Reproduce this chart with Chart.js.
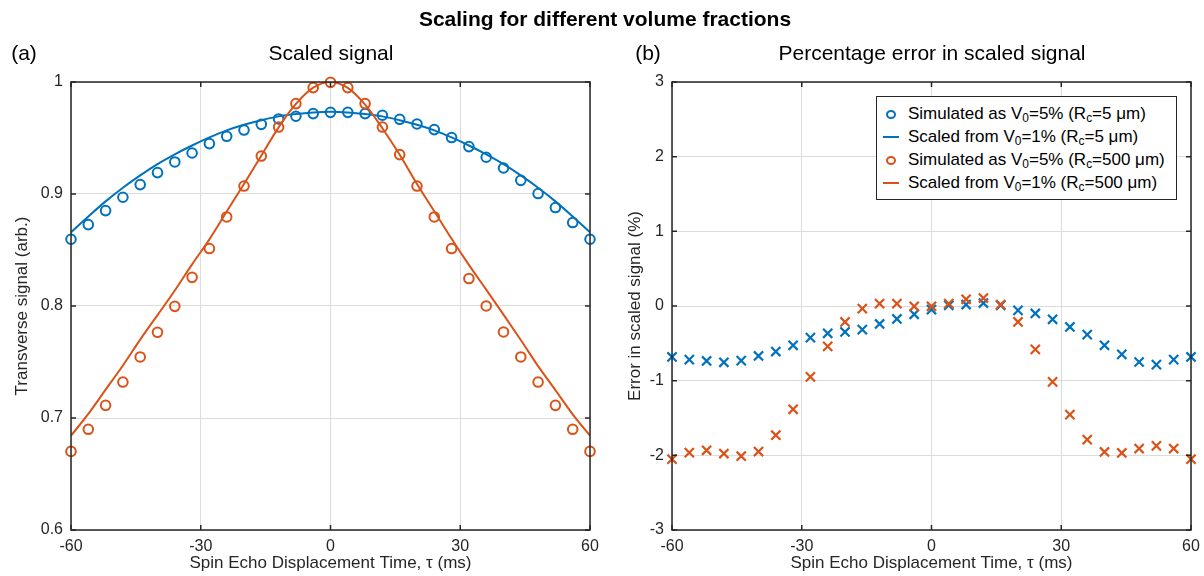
<!DOCTYPE html>
<html>
<head>
<meta charset="utf-8">
<script src="https://cdn.jsdelivr.net/npm/chart.js@4.4.1/dist/chart.umd.min.js"></script>
<style>
body { margin: 0; background: #fff; font-family: "Liberation Sans", Arial, sans-serif; }
#wrap { position: relative; width: 1204px; height: 576px; overflow: hidden; }
.box { position: absolute; top: 0; height: 576px; }
#boxA { left: 0; width: 600px; }
#boxB { left: 600px; width: 604px; }
.txt { position: absolute; white-space: nowrap; color: #000; line-height: 1; transform: translate(-50%, -50%); }
#legend { position: absolute; left: 876px; top: 96px; width: 301px; height: 104px; box-sizing: border-box;
  border: 1px solid #262626; background: #fff; padding-top: 5px; font-size: 17px; }
#legend .row { position: relative; height: 23px; line-height: 23px; padding-left: 31px; white-space: nowrap; }
#legend sub { font-size: 70%; line-height: 0; vertical-align: -0.25em; }
.mk { position: absolute; top: 50%; }
.circ { left: 9px; width: 10px; height: 9px; margin-top: -4px; border-radius: 50%; border: 2px solid; box-sizing: border-box; }
.ln { left: 6px; width: 16px; height: 2px; margin-top: -1px; }
</style>
</head>
<body>
<div id="wrap">
  <div class="box" id="boxA"><canvas id="chartA"></canvas></div>
  <div class="box" id="boxB"><canvas id="chartB"></canvas></div>

  <div class="txt" style="left:605px; top:18px; font-weight:bold; font-size:21px;">Scaling for different volume fractions</div>
  <div class="txt" style="left:24px; top:52px; font-size:21px;">(a)</div>
  <div class="txt" style="left:331px; top:52px; font-size:21px;">Scaled signal</div>
  <div class="txt" style="left:648px; top:52px; font-size:21px;">(b)</div>
  <div class="txt" style="left:932px; top:52px; font-size:21px;">Percentage error in scaled signal</div>

  <div id="legend">
    <div class="row"><span class="mk circ" style="border-color:#0072BD"></span>Simulated as V<sub>0</sub>=5% (R<sub>c</sub>=5 μm)</div>
    <div class="row"><span class="mk ln" style="background:#0072BD"></span>Scaled from V<sub>0</sub>=1% (R<sub>c</sub>=5 μm)</div>
    <div class="row"><span class="mk circ" style="border-color:#D95319"></span>Simulated as V<sub>0</sub>=5% (R<sub>c</sub>=500 μm)</div>
    <div class="row"><span class="mk ln" style="background:#D95319"></span>Scaled from V<sub>0</sub>=1% (R<sub>c</sub>=500 μm)</div>
  </div>
</div>

<script>
// spin echo displacement time (ms)
const tau = [-60, -56, -52, -48, -44, -40, -36, -32, -28, -24, -20, -16, -12, -8, -4, 0,
             4, 8, 12, 16, 20, 24, 28, 32, 36, 40, 44, 48, 52, 56, 60];

// (a) transverse signal, Rc = 5 um
const simSmall = [0.8596, 0.8727, 0.8852, 0.8971, 0.9084, 0.9191, 0.9286, 0.9366, 0.9450, 0.9515, 0.9571, 0.9622, 0.9670, 0.9694, 0.9718, 0.9729,
                  0.9729, 0.9718, 0.9703, 0.9667, 0.9625, 0.9575, 0.9504, 0.9423, 0.9328, 0.9232, 0.9122, 0.9004, 0.8879, 0.8745, 0.8596];
const scaledSmall = [0.8658, 0.8799, 0.8934, 0.9056, 0.9166, 0.9267, 0.9354, 0.9433, 0.9505, 0.9568, 0.9618, 0.9659, 0.9693, 0.9714, 0.9728, 0.9734,
                     0.9728, 0.9714, 0.9693, 0.9659, 0.9618, 0.9568, 0.9505, 0.9433, 0.9354, 0.9267, 0.9166, 0.9056, 0.8934, 0.8799, 0.8658];

// (a) transverse signal, Rc = 500 um
const simLarge = [0.6702, 0.6899, 0.7113, 0.7321, 0.7545, 0.7765, 0.7997, 0.8256, 0.8513, 0.8795, 0.9071, 0.9339, 0.9598, 0.9807, 0.9950, 0.9997,
                  0.9950, 0.9807, 0.9598, 0.9352, 0.9071, 0.8795, 0.8513, 0.8245, 0.8000, 0.7768, 0.7545, 0.7321, 0.7113, 0.6899, 0.6702];
const scaledLarge = [0.6842, 0.7037, 0.7253, 0.7469, 0.7700, 0.7919, 0.8138, 0.8372, 0.8595, 0.8843, 0.9090, 0.9342, 0.9595, 0.9804, 0.9950, 1.0000,
                     0.9947, 0.9798, 0.9587, 0.9350, 0.9090, 0.8846, 0.8600, 0.8367, 0.8146, 0.7923, 0.7696, 0.7463, 0.7249, 0.7033, 0.6842];

// (b) percentage error
const errSmall = [-0.683, -0.718, -0.736, -0.754, -0.731, -0.669, -0.610, -0.526, -0.423, -0.365, -0.348, -0.316, -0.241, -0.174, -0.111, -0.048,
                  0.010, 0.020, 0.040, 0.010, -0.058, -0.100, -0.178, -0.281, -0.383, -0.526, -0.647, -0.750, -0.785, -0.718, -0.683];
const errLarge = [-2.052, -1.963, -1.932, -1.976, -2.012, -1.949, -1.731, -1.383, -0.950, -0.540, -0.214, -0.035, 0.032, 0.032, -0.004, -0.004,
                  0.032, 0.090, 0.107, 0.019, -0.214, -0.580, -1.017, -1.454, -1.789, -1.955, -1.968, -1.909, -1.874, -1.909, -2.052];

const xTicks = [-60, -30, 0, 30, 60];
const blue = '#0072BD';
const orange = '#D95319';
const font = "'Liberation Sans', Arial, sans-serif";

function pts(ys) {
    return tau.map((t, i) => ({ x: t, y: ys[i] }));
}

// box around axes with inward ticks, like the original figure
const framePlugin = {
    id: 'frame',
    afterDraw(chart) {
        const { ctx, chartArea: a, scales } = chart;
        ctx.save();
        ctx.strokeStyle = '#262626';
        ctx.lineWidth = 1.5;
        ctx.strokeRect(a.left, a.top, a.right - a.left, a.bottom - a.top);
        ctx.beginPath();
        scales.x.ticks.forEach(t => {
            const px = scales.x.getPixelForValue(t.value);
            ctx.moveTo(px, a.bottom); ctx.lineTo(px, a.bottom - 5);
            ctx.moveTo(px, a.top); ctx.lineTo(px, a.top + 5);
        });
        scales.y.ticks.forEach(t => {
            const py = scales.y.getPixelForValue(t.value);
            ctx.moveTo(a.left, py); ctx.lineTo(a.left + 5, py);
            ctx.moveTo(a.right, py); ctx.lineTo(a.right - 5, py);
        });
        ctx.stroke();
        ctx.restore();
    }
};

function makeOptions(yMin, yMax, yStep, yTitle, yWidth, titlePad, rightPad) {
    return {
        responsive: true,
        maintainAspectRatio: false,
        animation: false,
        layout: { padding: { top: 82, right: rightPad, left: 0, bottom: 0 } },
        plugins: { legend: { display: false }, tooltip: { enabled: false } },
        scales: {
            x: {
                type: 'linear', min: -60, max: 60,
                afterFit: s => { s.height = 46; s.paddingLeft = 0; s.paddingRight = 0; },
                afterBuildTicks: s => { s.ticks = xTicks.map(v => ({ value: v })); },
                border: { display: false },
                grid: { color: '#dcdcdc', lineWidth: 1, drawTicks: false },
                ticks: { color: '#262626', font: { family: font, size: 16 }, padding: 7, maxRotation: 0, autoSkip: false },
                title: { display: true, text: 'Spin Echo Displacement Time, τ (ms)', color: '#262626',
                         font: { family: font, size: 17 }, padding: { top: 0, bottom: 2 } }
            },
            y: {
                type: 'linear', min: yMin, max: yMax,
                afterFit: s => { s.width = yWidth; s.paddingTop = 0; s.paddingBottom = 0; },
                border: { display: false },
                grid: { color: '#dcdcdc', lineWidth: 1, drawTicks: false },
                ticks: { stepSize: yStep, color: '#262626', font: { family: font, size: 16 }, padding: 8,
                         callback: v => String(Number(v.toFixed(1))) },
                title: { display: true, text: yTitle, color: '#262626',
                         font: { family: font, size: 17 }, padding: { top: titlePad, bottom: 0 } }
            }
        }
    };
}

new Chart(document.getElementById('chartA'), {
    type: 'scatter',
    data: {
        datasets: [
            { label: 'Simulated Rc=5', data: pts(simSmall), order: 4, clip: 10,
              pointStyle: 'circle', pointRadius: 4.8, borderWidth: 2, borderColor: blue, backgroundColor: 'rgba(0,0,0,0)' },
            { label: 'Scaled Rc=5', data: pts(scaledSmall), order: 3, showLine: true,
              pointRadius: 0, borderWidth: 2, borderColor: blue, cubicInterpolationMode: 'monotone' },
            { label: 'Simulated Rc=500', data: pts(simLarge), order: 2, clip: 10,
              pointStyle: 'circle', pointRadius: 4.8, borderWidth: 2, borderColor: orange, backgroundColor: 'rgba(0,0,0,0)' },
            { label: 'Scaled Rc=500', data: pts(scaledLarge), order: 1, showLine: true,
              pointRadius: 0, borderWidth: 2, borderColor: orange, cubicInterpolationMode: 'monotone' }
        ]
    },
    options: makeOptions(0.6, 1, 0.1, 'Transverse signal (arb.)', 71, 12, 10),
    plugins: [framePlugin]
});

new Chart(document.getElementById('chartB'), {
    type: 'scatter',
    data: {
        datasets: [
            { label: 'Error Rc=5', data: pts(errSmall), order: 2, clip: 10,
              pointStyle: 'crossRot', pointRadius: 6.5, borderWidth: 2.2, borderColor: blue },
            { label: 'Error Rc=500', data: pts(errLarge), order: 1, clip: 10,
              pointStyle: 'crossRot', pointRadius: 6.5, borderWidth: 2.2, borderColor: orange }
        ]
    },
    options: makeOptions(-3, 3, 1, 'Error in scaled signal (%)', 72, 25, 13),
    plugins: [framePlugin]
});
</script>
</body>
</html>
